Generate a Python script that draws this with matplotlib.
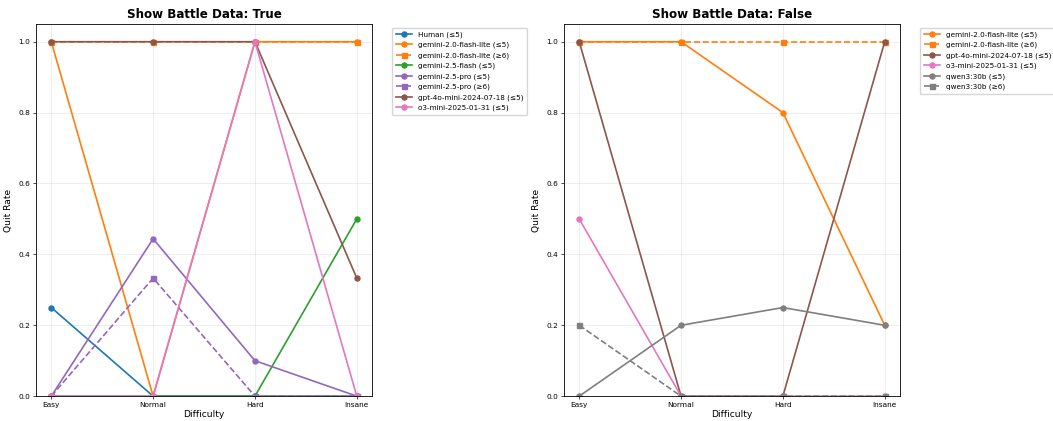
import numpy as np
import matplotlib.pyplot as plt

difficulties = ['Easy', 'Normal', 'Hard', 'Insane']

# quit rates with battle data shown
true_labels = ['Human (≤5)', 'gemini-2.0-flash-lite (≤5)', 'gemini-2.0-flash-lite (≥6)',
               'gemini-2.5-flash (≤5)', 'gemini-2.5-pro (≤5)', 'gemini-2.5-pro (≥6)',
               'gpt-4o-mini-2024-07-18 (≤5)', 'o3-mini-2025-01-31 (≤5)']
true_rates = [
    [0.25, 0.0, 0.0, 0.0],
    [1.0, 0.0, 1.0, 1.0],
    [1.0, 1.0, 1.0, 1.0],
    [0.0, 0.0, 0.0, 0.5],
    [0.0, 0.444, 0.1, 0.0],
    [0.0, 0.333, 0.0, 0.0],
    [1.0, 1.0, 1.0, 0.333],
    [0.0, 0.0, 1.0, 0.0],
]
true_colors = ['C0', 'C1', 'C1', 'C2', 'C4', 'C4', 'C5', 'C6']

# quit rates with battle data hidden
false_labels = ['gemini-2.0-flash-lite (≤5)', 'gemini-2.0-flash-lite (≥6)',
                'gpt-4o-mini-2024-07-18 (≤5)', 'o3-mini-2025-01-31 (≤5)',
                'qwen3:30b (≤5)', 'qwen3:30b (≥6)']
false_rates = [
    [1.0, 1.0, 0.8, 0.2],
    [1.0, 1.0, 1.0, 1.0],
    [1.0, 0.0, 0.0, 1.0],
    [0.5, 0.0, 0.0, 0.0],
    [0.0, 0.2, 0.25, 0.2],
    [0.2, 0.0, 0.0, 0.0],
]
false_colors = ['C1', 'C1', 'C5', 'C6', 'C7', 'C7']

fig, axes = plt.subplots(1, 2, figsize=(10.53, 4.21), dpi=100)
fig.subplots_adjust(left=0.0342, right=0.8547, top=0.943, bottom=0.059, wspace=0.571)

x = np.arange(len(difficulties))
panels = [('Show Battle Data: True', true_labels, true_rates, true_colors),
          ('Show Battle Data: False', false_labels, false_rates, false_colors)]

for ax, (title, labels, rates, colors) in zip(axes, panels):
    for label, vals, c in zip(labels, rates, colors):
        big = '≥6' in label
        ax.plot(x, vals, color=c, linestyle='--' if big else '-',
                marker='s' if big else 'o', markersize=3.6, linewidth=1.2, label=label)
    ax.set_title(title, fontsize=8.6, fontweight='bold', pad=4)
    ax.set_xlabel('Difficulty', fontsize=6.6, labelpad=2)
    ax.set_ylabel('Quit Rate', fontsize=6.6, labelpad=4)
    ax.set_xticks(x)
    ax.set_xticklabels(difficulties)
    ax.set_ylim(0, 1.05)
    ax.tick_params(labelsize=5.3, length=2, width=0.5, pad=2)
    ax.grid(True, alpha=0.3, linewidth=0.5)
    for s in ax.spines.values():
        s.set_linewidth(0.6)
    ax.legend(loc='upper left', bbox_to_anchor=(1.05, 1), fontsize=5.2,
              frameon=True, handlelength=2.2, borderpad=0.5, labelspacing=0.55)

fig.savefig('out.png', dpi=100)
